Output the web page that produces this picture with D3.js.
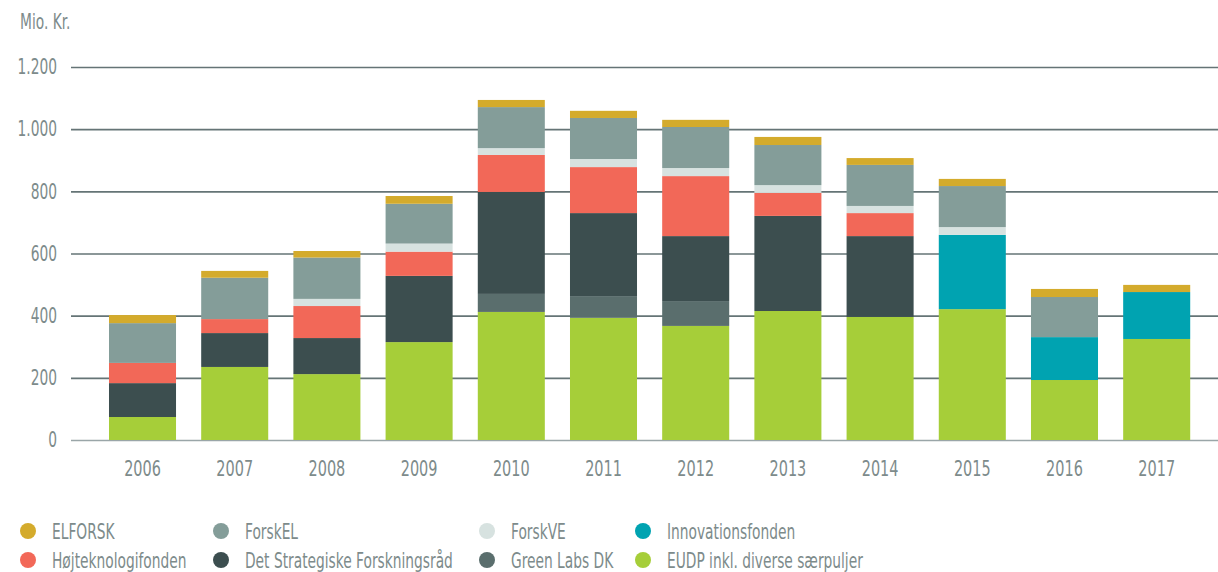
<!DOCTYPE html>
<html>
<head>
<meta charset="utf-8">
<script src="https://cdn.jsdelivr.net/npm/d3@7"></script>
<style>
  html, body { margin: 0; padding: 0; background: #fff; }
  svg text { font-family: "Liberation Sans Narrow", "DejaVu Sans Condensed", "Roboto", sans-serif; fill: #7d8b8b; }
</style>
</head>
<body>
<div id="chart"></div>
<script>
// data, Mio. Kr.
const years = [2006, 2007, 2008, 2009, 2010, 2011, 2012, 2013, 2014, 2015, 2016, 2017];
const eudp      = [74, 235, 212, 315, 412, 393, 367, 415, 396, 421, 193, 325];
const greenLabs = [0, 0, 0, 0, 58, 70, 80, 0, 0, 0, 0, 0];
const dsf       = [109, 109, 116, 213, 328, 267, 209, 306, 260, 0, 0, 0];
const innov     = [0, 0, 0, 0, 0, 0, 0, 0, 0, 239, 138, 151];
const hoj       = [65, 45, 103, 78, 119, 148, 193, 74, 74, 0, 0, 0];
const forskVE   = [0, 0, 23, 26, 22, 26, 26, 25, 23, 25, 0, 0];
const forskEL   = [128, 133, 133, 128, 132, 132, 132, 129, 132, 132, 129, 0];
const elforsk   = [26, 22, 21, 25, 23, 23, 23, 26, 22, 23, 26, 23];
const yTicks = [0, 200, 400, 600, 800, 1000, 1200];

// stack order, bottom to top
const series = [
  { key: 'eudp', name: 'EUDP inkl. diverse særpuljer', color: '#a6ce39', values: eudp },
  { key: 'greenLabs', name: 'Green Labs DK', color: '#5a6e6d', values: greenLabs },
  { key: 'dsf', name: 'Det Strategiske Forskningsråd', color: '#3c4e4f', values: dsf },
  { key: 'innov', name: 'Innovationsfonden', color: '#00a3b1', values: innov },
  { key: 'hoj', name: 'Højteknologifonden', color: '#f26858', values: hoj },
  { key: 'forskVE', name: 'ForskVE', color: '#d7e2e0', values: forskVE },
  { key: 'forskEL', name: 'ForskEL', color: '#849d99', values: forskEL },
  { key: 'elforsk', name: 'ELFORSK', color: '#d4ab2c', values: elforsk }
];
const legendOrder = ['elforsk', 'forskEL', 'forskVE', 'innov', 'hoj', 'dsf', 'greenLabs', 'eudp'];

const width = 1218, height = 572;
const squeeze = 0.73; // narrow the font horizontally
const fontSize = '21px';

const rows = years.map((yr, i) => {
  const r = { year: yr };
  series.forEach(s => r[s.key] = s.values[i]);
  return r;
});

const stacked = d3.stack().keys(series.map(s => s.key))(rows);
const colorOf = d3.scaleOrdinal().domain(series.map(s => s.key)).range(series.map(s => s.color));
const nameOf = {};
series.forEach(s => nameOf[s.key] = s.name);

const x = d3.scaleBand()
  .domain(years)
  .range([96.4, 1202.8])
  .paddingInner(0.273)
  .paddingOuter(0.1366);

const y = d3.scaleLinear().domain([0, 1200]).range([440, 67]);

const fmt = d3.formatLocale({ decimal: ',', thousands: '.', grouping: [3], currency: ['', ' kr.'] }).format(',d');

const svg = d3.select('#chart').append('svg')
  .attr('width', width)
  .attr('height', height);

// y title
svg.append('text')
  .attr('transform', `translate(20, 29) scale(${squeeze}, 1)`)
  .style('font-size', fontSize)
  .text('Mio. Kr.');

// gridlines + y labels
const gridLeft = 71;
const yAxis = svg.append('g')
  .attr('transform', `translate(${gridLeft}, 0)`)
  .call(d3.axisLeft(y).tickValues(yTicks).tickFormat(fmt).tickSize(-(width - gridLeft)).tickPadding(14));

yAxis.select('.domain').remove();
yAxis.selectAll('.tick line')
  .attr('stroke', d => d === 0 ? '#9aa6a8' : '#657476')
  .attr('stroke-width', 1.6);
yAxis.selectAll('.tick text')
  .attr('x', -14 / squeeze)
  .attr('transform', `scale(${squeeze}, 1)`)
  .attr('fill', '#7d8b8b')
  .style('font-size', fontSize);

// bars
svg.append('g')
  .selectAll('g')
  .data(stacked)
  .join('g')
  .attr('fill', d => colorOf(d.key))
  .selectAll('rect')
  .data(d => d)
  .join('rect')
  .attr('x', d => x(d.data.year))
  .attr('y', d => y(d[1]))
  .attr('width', x.bandwidth())
  .attr('height', d => y(d[0]) - y(d[1]));

// x labels
const xAxis = svg.append('g')
  .attr('transform', 'translate(0, 440)')
  .call(d3.axisBottom(x).tickSize(0).tickPadding(20));

xAxis.select('.domain').remove();
xAxis.selectAll('.tick text')
  .attr('transform', `scale(${squeeze}, 1)`)
  .attr('fill', '#7d8b8b')
  .style('font-size', '22px');

// legend
const legendCols = [28, 221, 487, 643];
const legendRows = [531, 560];

const legend = svg.append('g')
  .selectAll('g')
  .data(legendOrder)
  .join('g')
  .attr('transform', (d, i) => `translate(${legendCols[i % 4]}, ${legendRows[Math.floor(i / 4)]})`);

legend.append('circle')
  .attr('r', 8)
  .attr('fill', d => colorOf(d));

legend.append('text')
  .attr('transform', `translate(24, 7.5) scale(${squeeze}, 1)`)
  .style('font-size', fontSize)
  .text(d => nameOf[d]);
</script>
</body>
</html>
